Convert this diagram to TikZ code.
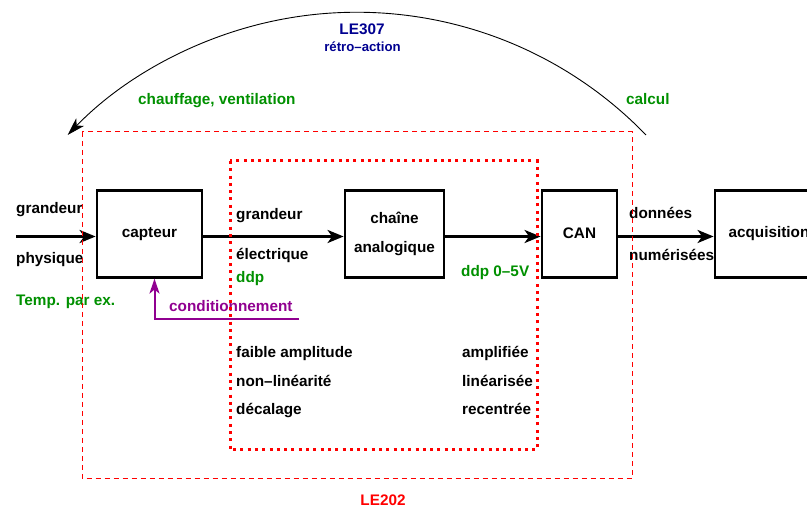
\documentclass[tikz,border=0pt]{standalone}
\usepackage{fontspec}
\setmainfont{Liberation Sans}
\usetikzlibrary{arrows.meta,calc}
\definecolor{fgreen}{RGB}{0,144,0}
\definecolor{fblue}{RGB}{0,0,144}
\definecolor{fpurple}{RGB}{144,0,144}
\begin{document}
\begin{tikzpicture}[x=1pt,y=1pt,
  txt/.style={font=\fontsize{15.3}{18}\selectfont\bfseries, inner sep=0pt, anchor=base west},
  blk/.style={draw, line width=2.8pt, inner sep=0pt, minimum height=87pt, font=\fontsize{15.3}{18}\selectfont\bfseries, align=center},
  flow/.style={line width=2.8pt, -{Stealth[length=16pt,width=13pt,inset=4.5pt]}},
  cond/.style={fpurple, line width=2pt, -{Stealth[length=15pt,width=10pt,inset=4pt]}},
  fb/.style={line width=0.9pt, -{Stealth[length=18pt,width=11pt,inset=5pt]}},
  outerbox/.style={red, line width=1pt, dash pattern=on 5pt off 4pt},
  innerbox/.style={red, line width=3pt, dash pattern=on 3pt off 4.3pt}]
\clip (0,0) rectangle (807,508);
% blocks
\coordinate (row) at (0,271.5);
\node[blk, minimum width=105pt] (capteur) at (149.5,274.3) {capteur};
\node[blk, minimum width=99pt, font=\fontsize{15.3}{29}\selectfont\bfseries] (chaine) at (394.5,274.3) {chaîne\\analogique};
\node[blk, minimum width=75pt] (can) at (579.5,274.3) {CAN};
\node[blk, minimum width=108pt] (acq) at (769,274.3) {acquisition};
% flow arrows
\coordinate (inp) at (16,271.5);
\draw[flow] (inp) -- (capteur.west |- row);
\draw[flow] (capteur.east |- row) -- (chaine.west |- row);
\draw[flow] (chaine.east |- row) -- (can.west |- row);
\draw[flow] (can.east |- row) -- (acq.west |- row);
% conditionnement
\coordinate (condstart) at (299,189);
\draw[cond] (condstart) -| ([xshift=5pt]capteur.south);
\node[txt, fpurple] (condtxt) at (169,196.3) {conditionnement};
% feedback arc
\coordinate (fbR) at (646,373);
\draw[fb] (fbR) arc[start angle=44, end angle=136, radius=402];
\node[txt, fblue, anchor=base] (le307) at (362,473.7) {LE307};
\node[txt, fblue, anchor=base, font=\fontsize{13.2}{16}\selectfont\bfseries] (retro) at (362.5,456.3) {rétro–action};
\node[txt, fgreen] (chauff) at (138,403.7) {chauffage, ventilation};
\node[txt, fgreen] (calc) at (626,403.7) {calcul};
% labels
\node[txt] (g1) at (16,294.5) {grandeur};
\node[txt] (p1) at (16,244) {physique};
\node[txt, fgreen] (temp) at (16,202) {Temp. par ex.};
\node[txt] (g2) at (236,288.7) {grandeur};
\node[txt] (e2) at (236,248) {électrique};
\node[txt, fgreen] (ddp) at (236,225) {ddp};
\node[txt, fgreen] (ddp5) at (461,231) {ddp 0–5V};
\node[txt] (don) at (629,289) {données};
\node[txt] (num) at (629,247.3) {numérisées};
\node[txt] (fa) at (236,150.3) {faible amplitude};
\node[txt] (nl) at (236,121.3) {non–linéarité};
\node[txt] (dec) at (236,93) {décalage};
\node[txt] (amp) at (462,150.3) {amplifiée};
\node[txt] (lin) at (462,121.3) {linéarisée};
\node[txt] (rec) at (462,93) {recentrée};
\node[txt, red, anchor=base] (le202) at (383,2.5) {LE202};
% red boundaries
\coordinate (o1) at (82,376);
\coordinate (o2) at (632,29.5);
\draw[outerbox] (o1) rectangle (o2);
\coordinate (i1) at (230,347);
\coordinate (i2) at (537,58);
\draw[innerbox] (i1) rectangle (i2);
\end{tikzpicture}
\end{document}
